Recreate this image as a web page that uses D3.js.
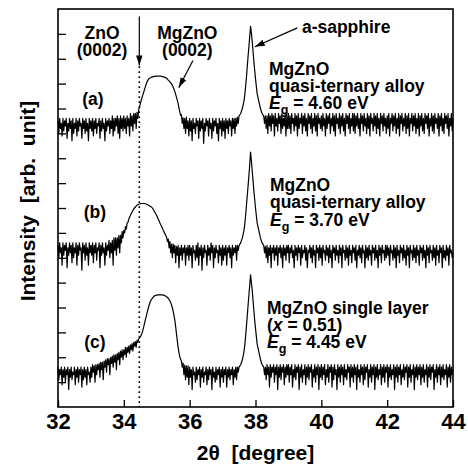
<!DOCTYPE html>
<html><head><meta charset="utf-8">
<script src="https://cdn.jsdelivr.net/npm/d3@7"></script>
<style>
body{margin:0;background:#fff}
svg text{font-family:"Liberation Sans",Arial,sans-serif;font-weight:bold;fill:#000}
</style>
</head><body>
<svg id="chart" width="468" height="464"></svg>
<script>
// XRD scan: 2θ from 32° to 44° in 0.025° steps (one row = 1°)
const scanStart = 32;
const scanStep = 0.025;

// intensity (arb. unit, offset traces)
const traceA = [
115,110,116,112,114,109,116,111,115,113,116,108,114,111,116,112,115,107,116,110,114,112,116,109,115,111,116,113,114,108,116,112,115,110,116,111,114,107,116,112,
115,111,116,109,115,112,116,110,114,113,116,108,115,111,116,112,114,107,116,111,115,113,116,110,115,112,117,109,116,111,116,113,117,110,116,108,117,112,116,111,
117,112,116,110,117,113,116,109,118,113,117,111,118,114,118,112,118.5,116,119.5,120.5,122,123.2,124.3,125.4,126.4,127.5,128.6,129.6,130.6,131.2,131.8,132.1,132.3,132.5,132.6,132.7,132.8,132.9,132.9,133,
133,133,133,133,133,133,132.9,132.8,132.7,132.6,132.5,132.4,132.2,131.8,131.4,131.1,130.7,130.3,129.9,129.2,128.5,127.7,126.8,125.7,124.5,123.3,122,120.2,118.6,117.2,117.5,114,116.2,112,116,110,116.5,112,115,109,
116,111,115,107,116,112,114,110,116,113,115,108,116,111,115,112,116,106,114,111,116,113,115,109,116,112,114,108,116,111,115,113,116,110,114,107,116,112,115,109,
116,111,115,108,116,112,115,110,116,113,115,109,116,112,116,110,116,113,116.5,114,117,117.5,118,119,120,121.5,123,125.5,129,132.5,137,141,145,149,153,150.5,147,143,139,135.5,
132,129,126,124.5,123,121.5,120,119,118,117.5,117,114,117,112,117,110,118,113,117,111,118,114,117,109,118,113,116,111,118,114,117,110,118,112,116,113,118,109,117,112,
118,112,117,110,118,114,116,111,118,113,117,109,118,112,116,114,118,110,117,113,118,111,116,109,118,114,117,112,118,110,116,113,118,111,117,109,118,114,116,112,
117,111,118,113,116,109,118,112,117,114,118,110,116,113,118,111,117,109,118,114,116,112,118,110,117,113,118,111,116,109,118,114,117,112,118,110,116,113,118,111,
118,110,117,113,118,112,116,109,118,114,117,111,118,113,116,110,118,112,117,109,118,114,116,111,118,113,117,110,118,112,116,109,118,114,117,111,118,113,116,110,
117,112,118,109,116,114,118,111,117,113,118,110,116,112,118,109,117,114,118,111,116,113,118,110,117,112,118,109,116,114,118,111,117,113,118,110,116,112,118,109,
117,113,118,111,116,110,118,114,117,112,118,109,116,113,118,111,117,110,118,114,116,112,118,109,117,113,118,111,116,110,118,114,117,112,118,109,116,113,118,111,116];

const traceB = [
65,60,66,62,64,57,66,61,65,63,66,56,64,61,66,62,65,58,66,60,64,62,66,57,65,61,66,63,64,55,66,62,65,59,66,61,64,57,66,62,
65,61,66,58,65,62,66,59,64,63,66,56,65,61,66,62,64,57,66,61,65,63,67,60,66,62,67,57,68,63,68,61,68,64,69,62,69,66,70.5,68,
71,70,72.5,71.5,74,74.2,75.5,76.3,77,77.8,78.4,79,79.6,80,80.4,80.8,81.1,81.3,81.5,81.6,81.7,81.8,81.8,81.8,81.8,81.8,81.7,81.6,81.4,81.3,81.1,80.9,80.7,80.5,80.3,79.8,79.3,78.7,78.1,77.5,
76.9,76.2,75.4,74.7,73.9,73.2,72.6,71.8,71,70.3,69.6,68.9,68.2,66.5,67.5,64,66.5,62,65.5,60,65.5,62,65,58,64.5,61,65,56,64,61,65,59,64,62,65,57,64,61,65,59,
65,61,64,56,65,62,63,59,65,60,66,57,64,61,65,55,64,60,65,62,63,57,65,61,64,59,66,62,65,56,64,60,65,62,63,58,65,61,64,57,
65,59,64,61,65,57,64,62,65,60,64,56,65,61,64,62,65,59,65,63,65,65.5,66,67,68,69.5,71,73.5,77,81,85,89,93,97.5,102.5,99,95,91,87,83.5,
80,77,74,72.5,71,69.5,68,67,66,65.5,65,62,64.5,60,65,58,64,61,65,56,64,62,65,59,64,61,65,57,64,62,65,60,64,56,65,61,64,59,65,62,
65,58,64,62,65,60,63,56,65,61,64,59,65,62,64,57,65,60,63,62,65,59,64,56,63,62,65,60,64,58,65,61,63,56,65,62,64,59,65,60,
64,57,65,62,63,59,65,61,64,58,65,60,63,56,65,62,64,59,65,61,63,58,65,61,64,56,65,62,63,59,65,60,64,57,65,61,63,58,65,62,
64,59,65,56,63,61,65,60,64,58,65,62,63,56,65,60,64,59,65,61,63,57,65,62,64,59,65,60,63,56,65,61,64,58,65,62,63,59,65,60,
65,61,64,57,65,62,63,59,65,60,64,56,65,61,63,58,65,62,64,59,65,60,63,57,65,61,64,56,65,62,63,59,65,60,64,58,65,61,63,57,
65,62,64,59,65,60,63,56,65,61,64,58,65,62,63,59,65,60,64,57,65,61,63,58,65,62,64,56,65,60,63,59,65,61,64,57,65,62,63,60,62];

const traceC = [
16,11,15,13,16,9,15,12,16,10,15,13,16,7,15,12,16,11,14,13,16,9,15,12,16,10,15,13,16,8,15,11,16,12,15,9,16,13,14,10,
16,12,17,14,16.5,10,17,13,17,15,17.5,12,18,15,18,11,18.5,16,19,14,19.5,17,19.5,13,20,17.5,20.5,16,21,18,21,15,21.5,19,22,17,22.5,20,23,19,
23,21,24,20,24,22,24.5,21.5,25,23,25.5,22.5,26,24.5,26.3,24,26.8,26,27.4,27.7,28.2,28.8,29.6,30.7,32,33.4,34.8,36.1,37.5,38.8,40.1,41.2,42.2,42.9,43.5,43.9,44.3,44.6,44.8,44.9,
45,45.1,45.1,45.1,45.1,45.1,45.1,45.1,45,44.9,44.7,44.5,44.3,44,43.7,43.2,42.6,41.9,41,39.8,38.4,36.7,34.8,32.2,29.3,26.6,24,21.8,20.2,19.2,18.5,16,17.6,13,16.8,11,16.5,12,16.5,9,
16,12,15,7,16,13,14,10,16,11,15,13,16,8,15,12,16,10,14,13,16,9,15,11,16,13,15,7,16,12,14,10,16,11,15,13,16,8,15,12,
16,10,15,13,16,8,15,12,16,11,15,13,16,9,15,12,16,11,16,14,16,16.5,17,18,19,20.5,22.3,25,28.5,32.5,36.7,41,45,49,53.1,50,47,43,38.8,35,
31.6,28.5,25.4,23.8,22.3,20.7,19.2,18,17,16.5,16,13,16,11,17,13,16,8,17,12,16,14,17,10,16,13,17,7,16,12,17,11,16,14,17,9,16,12,17,13,
17,10,16,13,17,8,15,12,17,11,16,14,17,7,16,12,17,10,15,13,17,9,16,12,17,11,16,14,17,8,15,12,17,10,16,13,17,7,16,12,
17,11,16,13,17,9,15,12,17,10,16,14,17,8,16,11,17,13,15,7,17,12,16,10,17,13,16,9,17,12,15,11,17,14,16,8,17,12,16,10,
17,13,16,7,17,12,15,10,17,13,16,9,17,11,16,14,17,8,15,12,17,10,16,13,17,7,16,12,17,11,15,13,17,9,16,12,17,10,16,14,
17,8,16,12,17,11,15,13,17,7,16,12,17,10,16,13,17,9,15,12,17,11,16,14,17,8,16,12,17,10,15,13,17,7,16,12,17,11,16,13,
17,9,16,12,17,10,15,13,17,8,16,12,17,11,16,14,17,7,15,12,17,10,16,13,17,9,16,12,17,11,15,13,17,8,16,12,17,10,16,13,15];

const xTickValues = [32,34,36,38,40,42,44];
const yTickValues = [10,20,30,40,50,60,70,80,90,100,110,120,130,140,150];
const xDomain = [32,44];
const yDomain = [0,160];
const znoAngle = 34.47;
const traceLabels = ["(a)","(b)","(c)"];

const svg = d3.select("#chart");
const x = d3.scaleLinear().domain(xDomain).range([58,453]);
const y = d3.scaleLinear().domain(yDomain).range([407,9]);

// arrow marker
svg.append("defs").append("marker")
  .attr("id","ah").attr("markerUnits","userSpaceOnUse")
  .attr("viewBox","0 -4 10 8").attr("refX",10).attr("refY",0)
  .attr("markerWidth",10).attr("markerHeight",8).attr("orient","auto")
  .append("path").attr("d","M0,-3.2L10,0L0,3.2Z").attr("fill","#000");

// traces
const line = d3.line().x((d,i)=>x(scanStart+i*scanStep)).y(d=>y(d));
[traceA,traceB,traceC].forEach(t=>{
  svg.append("path").datum(t).attr("d",line)
    .attr("fill","none").attr("stroke","#000").attr("stroke-width",1.2)
    .attr("stroke-linejoin","round");
});

// ZnO dotted reference line + arrow
svg.append("line").attr("x1",x(znoAngle)).attr("x2",x(znoAngle))
  .attr("y1",y(137)).attr("y2",y(0))
  .attr("stroke","#000").attr("stroke-width",1.6).attr("stroke-dasharray","1.8,3.2");
svg.append("line").attr("x1",x(znoAngle)).attr("x2",x(znoAngle))
  .attr("y1",y(157)).attr("y2",y(137.3))
  .attr("stroke","#000").attr("stroke-width",1.2).attr("marker-end","url(#ah)");
// MgZnO arrow
svg.append("line").attr("x1",x(36.1)).attr("y1",y(139.3)).attr("x2",x(35.67)).attr("y2",y(128.4))
  .attr("stroke","#000").attr("stroke-width",1.2).attr("marker-end","url(#ah)");
// sapphire arrow
svg.append("line").attr("x1",x(39.27)).attr("y1",y(152.4)).attr("x2",x(37.98)).attr("y2",y(144.8))
  .attr("stroke","#000").attr("stroke-width",1.2).attr("marker-end","url(#ah)");

// axes
const gx = svg.append("g").attr("transform",`translate(0,${y(0)})`)
  .call(d3.axisBottom(x).tickValues(xTickValues).tickSizeInner(-7).tickSizeOuter(0).tickPadding(6));
gx.selectAll("text").style("font-size","22px");
const gy = svg.append("g").attr("transform",`translate(${x(32)},0)`)
  .call(d3.axisLeft(y).tickValues(yTickValues).tickSizeInner(-8).tickSizeOuter(0).tickFormat(""));
svg.selectAll(".domain").remove();
svg.selectAll(".tick line").attr("stroke","#000").attr("stroke-width",1.3);

// frame
svg.append("rect").attr("x",x(32)).attr("y",y(160)).attr("width",x(44)-x(32)).attr("height",y(0)-y(160))
  .attr("fill","none").attr("stroke","#000").attr("stroke-width",1.6);

// axis titles
svg.append("text").attr("x",(x(32)+x(44))/2).attr("y",460).attr("text-anchor","middle")
  .style("font-size","21px").style("white-space","pre").text("2θ  [degree]");
svg.append("text").attr("transform","translate(35,201) rotate(-90)").attr("text-anchor","middle")
  .style("font-size","21px").style("white-space","pre").text("Intensity  [arb.  unit]");

// annotations
function label(tx,ty,str,anchor){
  return svg.append("text").attr("x",x(tx)).attr("y",y(ty)).attr("text-anchor",anchor||"start")
    .style("font-size","17.5px").text(str);
}
label(33.34,148.1,"ZnO","middle");
label(33.34,141.3,"(0002)","middle");
label(35.93,148.1,"MgZnO","middle");
label(35.93,141.3,"(0002)","middle");
label(39.41,150.4,"a-sapphire");
label(33.06,121.4,traceLabels[0],"middle");
label(33.12,76.0,traceLabels[1],"middle");
label(33.12,23.7,traceLabels[2],"middle");

function egLine(tx,ty,val){
  const t = svg.append("text").attr("x",x(tx)).attr("y",y(ty)).style("font-size","17.5px");
  t.append("tspan").style("font-style","italic").text("E");
  t.append("tspan").attr("dy",5).style("font-size","12.5px").text("g");
  t.append("tspan").attr("dy",-5).style("white-space","pre").text(" = "+val+" eV");
}
label(38.41,133.3,"MgZnO");
label(38.41,126.6,"quasi-ternary alloy");
egLine(38.41,119.9,"4.60");
label(38.44,87.0,"MgZnO");
label(38.44,79.8,"quasi-ternary alloy");
egLine(38.44,72.6,"3.70");
label(38.35,37.2,"MgZnO single layer");
const xl = svg.append("text").attr("x",x(38.35)).attr("y",y(30.4)).style("font-size","17.5px");
xl.append("tspan").text("(");
xl.append("tspan").style("font-style","italic").text("x");
xl.append("tspan").style("white-space","pre").text(" = 0.51)");
egLine(38.35,23.6,"4.45");
</script>
</body></html>
